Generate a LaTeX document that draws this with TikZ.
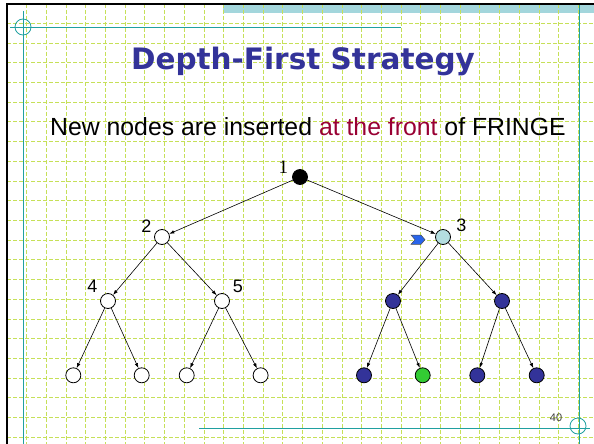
\documentclass[tikz,border=0pt]{standalone}
\usepackage{fontspec}
\setmainfont{Liberation Sans}
\newfontfamily\titlefont{DejaVu Sans}
\newfontfamily\numfont{Liberation Serif}
\usetikzlibrary{arrows.meta}
\definecolor{gridgreen}{RGB}{198,224,88}
\definecolor{slideteal}{RGB}{32,160,160}
\definecolor{bandteal}{RGB}{163,214,220}
\definecolor{titleblue}{RGB}{51,51,153}
\definecolor{frontred}{RGB}{153,0,51}
\definecolor{openblue}{RGB}{180,222,224}
\definecolor{doneblue}{RGB}{51,51,153}
\definecolor{goalgreen}{RGB}{51,204,51}
\definecolor{markblue}{RGB}{40,100,235}

\begin{document}
\begin{tikzpicture}[
    x=1pt, y=-1pt,
    gridline/.style={gridgreen, line width=0.9pt, dash pattern=on 4pt off 2pt},
    rule/.style={slideteal, line width=0.8pt},
    vertex/.style={circle, draw, line width=0.8pt, minimum size=15pt, inner sep=0pt},
    edge/.style={->, line width=0.6pt},
    lbl/.style={font=\fontsize{18}{18}\selectfont, inner sep=1pt},
    >={Latex[length=5pt,width=3.5pt]}
  ]
    \useasboundingbox (0,0) rectangle (594,444);
    \fill[white] (0,0) rectangle (594,444);
    \fill[bandteal] (223,5) rectangle (594,13);
    \foreach \i in {1,...,29}
      \draw[gridline] ({6.9+19.71*\i},4) -- ({6.9+19.71*\i},444);
    \foreach \j in {1,...,22}
      \draw[gridline] (7,{3.6+19.71*\j}) -- (594,{3.6+19.71*\j});
    \draw[line width=2.2pt] (7.2,444) |- (594,4.3);

    \draw[rule] (10,27) -- (401,27);
    \draw[rule] (23,11) -- (23,444);
    \draw[rule] (23,27) circle (8);
    \draw[rule] (579,5) -- (579,444);
    \draw[rule] (199,428) -- (590,428);
    \draw[rule] (578,426) circle (8);

    \node[anchor=base, text=titleblue, font=\titlefont\bfseries\fontsize{29.5}{29.5}\selectfont] (title) at (303,70) {Depth-First Strategy};
    \node[anchor=base west, inner sep=0pt, font=\fontsize{24.8}{24.8}\selectfont] (insertion) at (50,135) {New nodes are inserted \textcolor{frontred}{at the front} of FRINGE};

    \node[vertex, fill=black, label={[lbl, font=\numfont\fontsize{19}{19}\selectfont, label distance=3pt]167:1}] (n1) at (300,177) {};
    \node[vertex, fill=white, label={[lbl, label distance=2pt]162:2}] (n2) at (162,237) {};
    \node[vertex, fill=openblue, label={[lbl, label distance=5pt]19:3}] (n3) at (443,237) {};
    \node[vertex, fill=white, label={[lbl, label distance=4pt]143:4}] (n4) at (108,301) {};
    \node[vertex, fill=white, label={[lbl, label distance=4pt]35:5}] (n5) at (222,301) {};
    \node[vertex, fill=doneblue] (n6) at (393,301) {};
    \node[vertex, fill=doneblue] (n7) at (502,301) {};
    \node[vertex, fill=white] (n8) at (73.3,375.3) {};
    \node[vertex, fill=white] (n9) at (141.7,375.3) {};
    \node[vertex, fill=white] (n10) at (186.7,375.3) {};
    \node[vertex, fill=white] (n11) at (260.6,375.3) {};
    \node[vertex, fill=doneblue] (n12) at (364,375.3) {};
    \node[vertex, fill=goalgreen] (n13) at (422.7,375.3) {};
    \node[vertex, fill=doneblue] (n14) at (477.3,375.3) {};
    \node[vertex, fill=doneblue] (n15) at (536.7,375.3) {};

    \draw[edge] (n1) -- (n2);
    \draw[edge] (n1) -- (n3);
    \draw[edge] (n2) -- (n4);
    \draw[edge] (n2) -- (n5);
    \draw[edge] (n3) -- (n6);
    \draw[edge] (n3) -- (n7);
    \draw[edge] (n4) -- (n8);
    \draw[edge] (n4) -- (n9);
    \draw[edge] (n5) -- (n10);
    \draw[edge] (n5) -- (n11);
    \draw[edge] (n6) -- (n12);
    \draw[edge] (n6) -- (n13);
    \draw[edge] (n7) -- (n14);
    \draw[edge] (n7) -- (n15);

    \fill[markblue, draw=black!70, line width=0.5pt] (411,235) -- (421,235) -- (425,239.7) -- (421,244.3) -- (411,244.3) -- (415,239.7) -- cycle;

    \node[font=\fontsize{11}{11}\selectfont, text=black!75] (pageno) at (556,418) {40};
  \end{tikzpicture}
\end{document}
